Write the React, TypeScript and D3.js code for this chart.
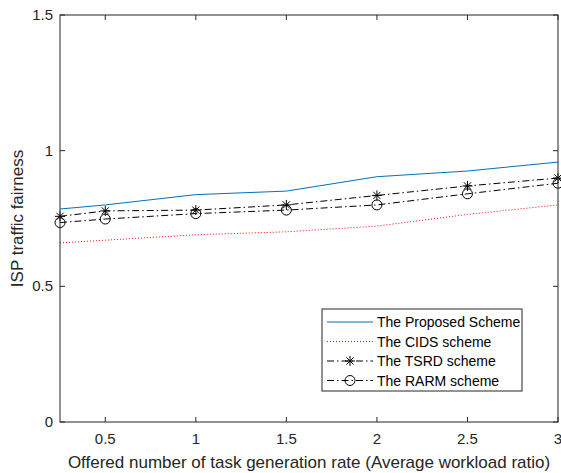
import React from 'react';
import * as d3 from 'd3';

interface Series {
  name: string,
  values: number[],
  color: string,
  dash: string | null,
  marker: 'none' | 'star' | 'circle'
}

const xValues = [0.25, 0.5, 1, 1.5, 2, 2.5, 3];

const proposedValues = [0.785, 0.800, 0.838, 0.851, 0.904, 0.925, 0.958];
const cidsValues = [0.660, 0.670, 0.690, 0.701, 0.722, 0.765, 0.800];
const tsrdValues = [0.758, 0.778, 0.781, 0.800, 0.835, 0.870, 0.899];
const rarmValues = [0.735, 0.748, 0.768, 0.781, 0.800, 0.841, 0.880];

const xTicks = [0.5, 1, 1.5, 2, 2.5, 3];
const yTicks = [0, 0.5, 1, 1.5];

const series: Series[] = [
  { name: 'The Proposed Scheme', values: proposedValues, color: '#0072BD', dash: null, marker: 'none' },
  { name: 'The CIDS scheme', values: cidsValues, color: '#FF0000', dash: '1,2', marker: 'none' },
  { name: 'The TSRD scheme', values: tsrdValues, color: '#000000', dash: '7,3,1.5,3', marker: 'star' },
  { name: 'The RARM scheme', values: rarmValues, color: '#000000', dash: '7,3,1.5,3', marker: 'circle' },
];

const font = '"Liberation Sans", Arial, Helvetica, sans-serif';
const axisColor = '#262626';

const Marker: React.FC<{ type: string, x: number, y: number }> = ({ type, x, y }) => {
  if (type === 'star') {
    const r = 5;
    const d = r * 0.72;
    return (
      <g stroke="#000" strokeWidth={1} fill="none">
        <line x1={x - r} y1={y} x2={x + r} y2={y} />
        <line x1={x} y1={y - r} x2={x} y2={y + r} />
        <line x1={x - d} y1={y - d} x2={x + d} y2={y + d} />
        <line x1={x - d} y1={y + d} x2={x + d} y2={y - d} />
      </g>
    );
  }
  if (type === 'circle') {
    return <circle cx={x} cy={y} r={5} stroke="#000" strokeWidth={1} fill="none" />;
  }
  return null;
};

const App: React.FC = () => {
  const width = 561;
  const height = 473;
  const margin = { top: 15, right: 3, bottom: 51, left: 60 };
  const left = margin.left;
  const right = width - margin.right;
  const top = margin.top;
  const bottom = height - margin.bottom;

  const xScale = d3.scaleLinear().domain([0.25, 3]).range([left, right]);
  const yScale = d3.scaleLinear().domain([0, 1.5]).range([bottom, top]);

  const line = d3.line<number>()
    .x((_, i) => xScale(xValues[i]))
    .y((d) => yScale(d));

  const tick = 5;

  // legend placement
  const lg = { x: 322, y: 309, w: 200, h: 82 };
  const rowY = (i: number) => lg.y + 13 + i * 19.5;

  return (
    <div style={{ position: 'absolute', left: 0, top: 0 }}>
      <svg width={width} height={height} style={{ display: 'block', background: '#fff' }}>
        <rect x={0} y={0} width={width} height={height} fill="#fff" />

        {/* data lines */}
        {series.map((s) => (
          <g key={s.name}>
            <path
              d={line(s.values) || ''}
              fill="none"
              stroke={s.color}
              strokeWidth={1}
              strokeDasharray={s.dash || undefined}
            />
            {s.values.map((v, i) => (
              <Marker key={i} type={s.marker} x={xScale(xValues[i])} y={yScale(v)} />
            ))}
          </g>
        ))}

        {/* axes box */}
        <rect x={left} y={top} width={right - left} height={bottom - top} fill="none" stroke={axisColor} strokeWidth={1} />

        {/* x ticks */}
        {xTicks.map((t) => (
          <g key={'x' + t}>
            <line x1={xScale(t)} x2={xScale(t)} y1={bottom} y2={bottom - tick} stroke={axisColor} />
            <line x1={xScale(t)} x2={xScale(t)} y1={top} y2={top + tick} stroke={axisColor} />
            <text x={xScale(t)} y={bottom + 22} textAnchor="middle" fontFamily={font} fontSize={15} fill={axisColor}>
              {t}
            </text>
          </g>
        ))}

        {/* y ticks */}
        {yTicks.map((t) => (
          <g key={'y' + t}>
            <line x1={left} x2={left + tick} y1={yScale(t)} y2={yScale(t)} stroke={axisColor} />
            <line x1={right} x2={right - tick} y1={yScale(t)} y2={yScale(t)} stroke={axisColor} />
            <text x={left - 7} y={yScale(t) + 5} textAnchor="end" fontFamily={font} fontSize={15} fill={axisColor}>
              {t}
            </text>
          </g>
        ))}

        {/* axis labels */}
        <text x={(left + right) / 2} y={bottom + 46} textAnchor="middle" fontFamily={font} fontSize={17} fill={axisColor}>
          Offered number of task generation rate (Average workload ratio)
        </text>
        <text
          transform={`translate(23,${(top + bottom) / 2}) rotate(-90)`}
          textAnchor="middle"
          fontFamily={font}
          fontSize={17}
          fill={axisColor}
        >
          ISP traffic fairness
        </text>

        {/* legend */}
        <rect x={lg.x} y={lg.y} width={lg.w} height={lg.h} fill="#fff" stroke={axisColor} strokeWidth={1} />
        {series.map((s, i) => (
          <g key={'lg' + s.name}>
            <line
              x1={lg.x + 5}
              x2={lg.x + 51}
              y1={rowY(i)}
              y2={rowY(i)}
              stroke={s.color}
              strokeWidth={1}
              strokeDasharray={s.dash || undefined}
            />
            <Marker type={s.marker} x={lg.x + 28} y={rowY(i)} />
            <text x={lg.x + 55} y={rowY(i) + 5} fontFamily={font} fontSize={14} fill="#000">
              {s.name}
            </text>
          </g>
        ))}
      </svg>
    </div>
  );
};

export default App;
